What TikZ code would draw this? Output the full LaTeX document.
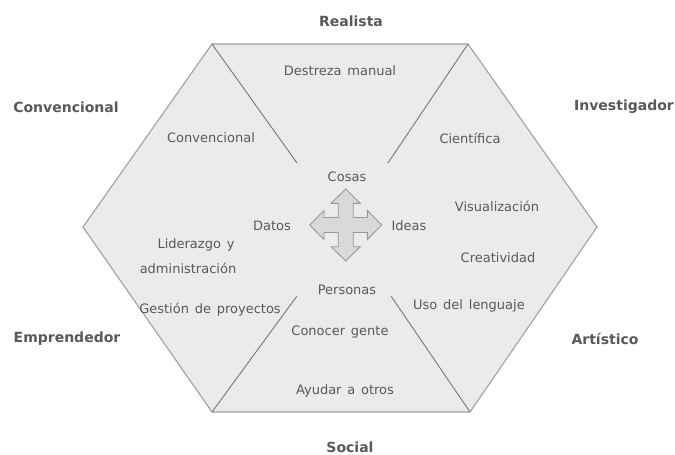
\documentclass[tikz,border=0pt]{standalone}
\usepackage{fontspec}
\setmainfont[WordSpace={1.4}]{DejaVu Sans}
\definecolor{hexfill}{HTML}{EBEBEB}
\definecolor{hexline}{HTML}{A0A0A0}
\definecolor{cutline}{HTML}{777777}
\definecolor{crossfill}{HTML}{D9D9D9}
\definecolor{crossline}{HTML}{999999}
\definecolor{txtgray}{HTML}{595959}
\tikzset{
  tipo/.style={font=\bfseries\fontsize{14}{16}\selectfont, text=txtgray, inner sep=0pt},
  rasgo/.style={font=\fontsize{13}{15}\selectfont, text=txtgray, inner sep=0pt},
}

\begin{document}
\begin{tikzpicture}[x=1pt,y=-1pt]
    \useasboundingbox (0,0) rectangle (675,455);
    % hexagon
    \coordinate (TL) at (212,44);
    \coordinate (TR) at (468,44);
    \coordinate (RR) at (597,227);
    \coordinate (BR) at (470,412);
    \coordinate (BL) at (212,412);
    \coordinate (LL) at (83,227);
    \filldraw[fill=hexfill, draw=hexline, line width=1.1pt]
      (TL) -- (TR) -- (RR) -- (BR) -- (BL) -- (LL) -- cycle;
    % cuts towards the centre
    \coordinate (CTL) at (297,163);
    \coordinate (CTR) at (388,163);
    \coordinate (CBL) at (297,296);
    \coordinate (CBR) at (391,296);
    \path[draw=cutline, line width=0.9pt] (TL) edge (CTL);
    \path[draw=cutline, line width=0.9pt] (TR) edge (CTR);
    \path[draw=cutline, line width=0.9pt] (BL) edge (CBL);
    \path[draw=cutline, line width=0.9pt] (BR) edge (CBR);
    % four-way arrow
    \begin{scope}[shift={(345.7,225)}]
      \filldraw[fill=crossfill, draw=crossline, line width=0.9pt, line join=miter]
        (0,-36) -- (14.5,-21.7) -- (7.5,-21.7) -- (7.5,-7.5) -- (21.7,-7.5) -- (21.7,-14.5)
        -- (36,0) -- (21.7,14.5) -- (21.7,7.5) -- (7.5,7.5) -- (7.5,21.7) -- (14.5,21.7)
        -- (0,36) -- (-14.5,21.7) -- (-7.5,21.7) -- (-7.5,7.5) -- (-21.7,7.5) -- (-21.7,14.5)
        -- (-36,0) -- (-21.7,-14.5) -- (-21.7,-7.5) -- (-7.5,-7.5) -- (-7.5,-21.7) -- (-14.5,-21.7)
        -- cycle;
    \end{scope}
    % types
    \node[tipo] (Rea) at (351,21) {Realista};
    \node[tipo] (Con) at (66,107) {Convencional};
    \node[tipo] (Inv) at (624,107) {Investigador};
    \node[tipo] (Emp) at (67,339) {Emprendedor};
    \node[tipo] (Art) at (605,339) {Artístico};
    \node[tipo] (Soc) at (350,447) {Social};
    % traits
    \node[rasgo] (Des) at (340,71) {Destreza manual};
    \node[rasgo] (ConI) at (211,138) {Convencional};
    \node[rasgo] (Cie) at (470,138) {Científica};
    \node[rasgo] (Cos) at (347,177) {Cosas};
    \node[rasgo] (Dat) at (272,226) {Datos};
    \node[rasgo] (Ide) at (409,226) {Ideas};
    \node[rasgo] (Vis) at (497,206) {Visualización};
    \node[rasgo] (Cre) at (498,258) {Creatividad};
    \node[rasgo] (Lid) at (196,245) {Liderazgo y};
    \node[rasgo] (Adm) at (188,268) {administración};
    \node[rasgo] (Per) at (347,290) {Personas};
    \node[rasgo] (Ges) at (210,310) {Gestión de proyectos};
    \node[rasgo] (Uso) at (469,306) {Uso del lenguaje};
    \node[rasgo] (Cgt) at (340,332) {Conocer gente};
    \node[rasgo] (Ayu) at (345,391) {Ayudar a otros};
\end{tikzpicture}
\end{document}
